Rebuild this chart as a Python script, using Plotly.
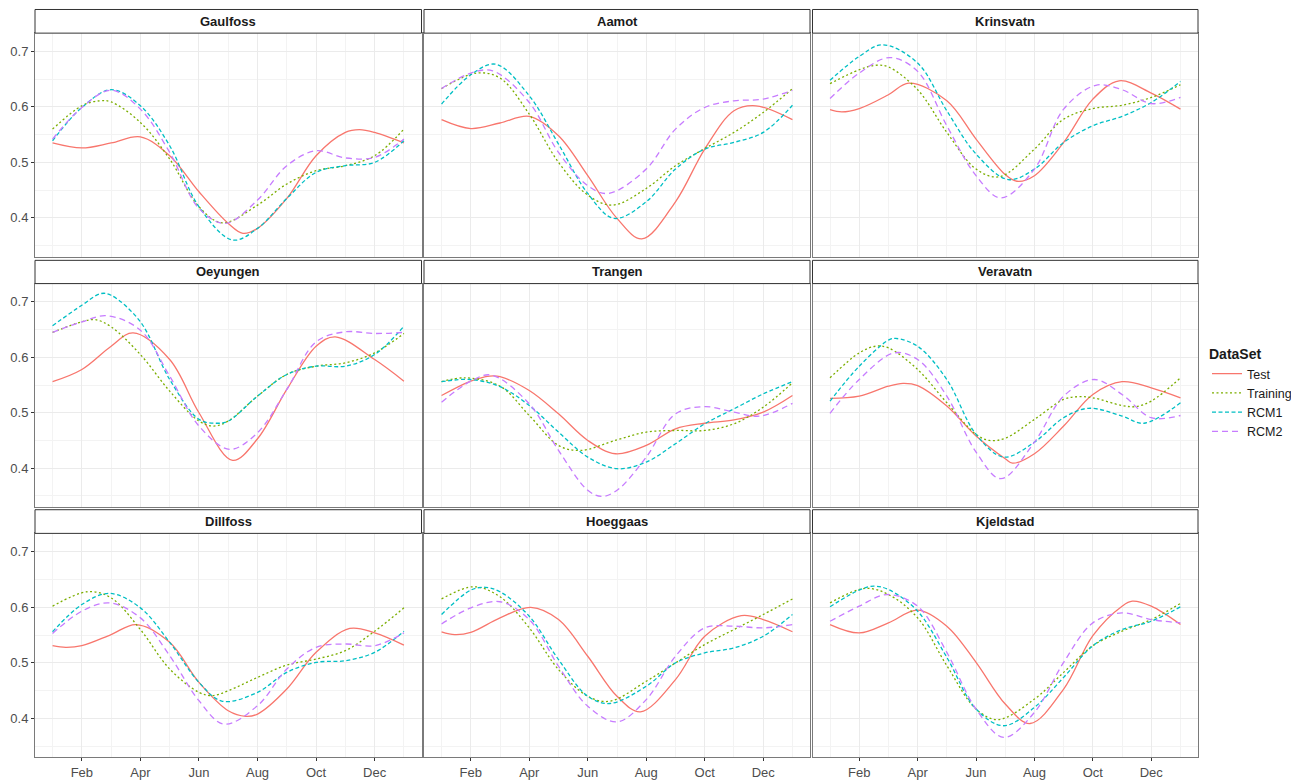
import plotly.graph_objects as go

# ---------------- data (month index: 1 = 1 Jan, 2 = 1 Feb, ..., 13 = 1 Jan next year) ----------------
STATIONS = ["Gaulfoss", "Aamot", "Krinsvatn",
            "Oeyungen", "Trangen", "Veravatn",
            "Dillfoss", "Hoeggaas", "Kjeldstad"]
SERIES = ["Test", "Training", "RCM1", "RCM2"]
MONTH_TICKS = [2, 4, 6, 8, 10, 12]
MONTH_LABELS = ["Feb", "Apr", "Jun", "Aug", "Oct", "Dec"]
MONTH_MINOR = [1, 3, 5, 7, 9, 11, 13]
Y_TICKS = [0.4, 0.5, 0.6, 0.7]
Y_LABELS = ["0.4", "0.5", "0.6", "0.7"]
Y_MINOR = [0.35, 0.45, 0.55, 0.65]

GAULFOSS_TEST = [(1, .535), (2, .526), (3, .535), (4, .546), (5, .512), (6, .447), (7, .390), (7.5, .372), (8, .381), (9, .435), (10, .512), (11, .554), (11.48, .559), (12, .554), (13, .535)]
GAULFOSS_TRAINING = [(1, .560), (2, .602), (2.6, .611), (3, .609), (4, .572), (5, .506), (6, .420), (6.8, .391), (8, .423), (9, .461), (10, .485), (11, .494), (12, .512), (13, .560)]
GAULFOSS_RCM1 = [(1, .539), (2, .599), (3, .631), (4, .602), (5, .530), (6, .420), (7.15, .360), (8, .381), (9, .435), (10, .482), (11, .494), (12, .500), (13, .539)]
GAULFOSS_RCM2 = [(1, .542), (2, .599), (3, .630), (4, .596), (5, .518), (6, .417), (6.9, .390), (8, .432), (9, .494), (10, .521), (11, .508), (12, .509), (13, .542)]

AAMOT_TEST = [(1, .577), (2, .561), (3, .571), (4, .583), (5, .548), (6, .476), (7, .399), (7.85, .362), (9, .429), (10, .524), (11, .593), (11.75, .602), (13, .577)]
AAMOT_TRAINING = [(1, .633), (2.2, .661), (3, .652), (4, .587), (5, .500), (6, .441), (6.85, .423), (8, .453), (9, .494), (10, .525), (11, .554), (12, .590), (13, .633)]
AAMOT_RCM1 = [(1, .605), (2, .658), (2.85, .677), (4, .620), (5, .533), (6, .444), (6.9, .399), (8, .429), (9, .488), (10, .524), (11, .536), (12, .554), (13, .603)]
AAMOT_RCM2 = [(1, .633), (2, .661), (2.75, .665), (4, .608), (5, .518), (6, .458), (6.7, .444), (8, .488), (9, .560), (10, .599), (11, .611), (12, .614), (13, .630)]

KRINSVATN_TEST = [(1, .595), (1.4, .591), (2, .597), (3, .622), (3.7, .643), (5, .611), (6, .542), (7, .478), (7.4, .466), (8, .476), (9, .536), (10, .614), (10.9, .647), (12, .625), (13, .596)]
KRINSVATN_TRAINING = [(1, .642), (2, .667), (2.55, .675), (3, .672), (4, .631), (5, .554), (6, .488), (6.8, .474), (8, .524), (9, .578), (10, .597), (11, .603), (12, .617), (13, .640)]
KRINSVATN_RCM1 = [(1, .648), (2, .691), (2.8, .712), (4, .679), (5, .593), (6, .515), (7.1, .469), (8, .488), (9, .536), (10, .566), (11, .583), (12, .608), (13, .646)]
KRINSVATN_RCM2 = [(1, .615), (2, .661), (3.05, .689), (4, .664), (5, .566), (6, .476), (6.85, .436), (8, .488), (9, .596), (10.1, .639), (11, .631), (12, .606), (13, .617)]

OEYUNGEN_TEST = [(1, .556), (2, .578), (3, .620), (3.75, .644), (5, .596), (6, .500), (7.15, .414), (8, .453), (9, .542), (10, .620), (10.65, .637), (12, .596), (13, .557)]
OEYUNGEN_TRAINING = [(1, .645), (2, .664), (2.45, .668), (3, .655), (4, .605), (5, .539), (6, .485), (6.5, .476), (7, .485), (8, .530), (9, .569), (10, .584), (11, .590), (12, .608), (13, .643)]
OEYUNGEN_RCM1 = [(1, .657), (2, .694), (2.65, .715), (3, .712), (4, .664), (5, .560), (6, .488), (6.6, .481), (7, .485), (8, .530), (9, .569), (10, .584), (11, .584), (12, .605), (13, .656)]
OEYUNGEN_RCM2 = [(1, .645), (2, .664), (2.85, .675), (4, .649), (5, .566), (6, .476), (7.05, .434), (8, .464), (9, .542), (10, .628), (11, .646), (12, .643), (13, .645)]

TRANGEN_TEST = [(1, .531), (2, .557), (2.65, .566), (3, .565), (4, .540), (5, .498), (6, .450), (6.95, .426), (8, .441), (9, .471), (10, .481), (11, .487), (12, .501), (13, .531)]
TRANGEN_TRAINING = [(1, .556), (1.8, .563), (3, .548), (4, .495), (5, .441), (5.75, .432), (7, .451), (8, .465), (9, .468), (10, .468), (11, .480), (12, .510), (13, .554)]
TRANGEN_RCM1 = [(1, .556), (2, .560), (3, .547), (4, .513), (5, .465), (6, .420), (7, .399), (8, .411), (9, .444), (10, .480), (11, .507), (12, .534), (13, .556)]
TRANGEN_RCM2 = [(1, .519), (2, .557), (2.7, .568), (4, .516), (5, .432), (6, .360), (6.47, .349), (7, .360), (8, .420), (9, .498), (10, .511), (11, .501), (11.9, .494), (13, .517)]

VERAVATN_TEST = [(1, .526), (2, .530), (3, .548), (3.5, .553), (4, .549), (5, .512), (6, .458), (7, .417), (7.25, .409), (8, .426), (9, .476), (10, .533), (11, .556), (12, .545), (13, .527)]
VERAVATN_TRAINING = [(1, .563), (2, .608), (2.55, .620), (3, .617), (4, .578), (5, .518), (6, .461), (6.45, .450), (7, .454), (8, .488), (9, .524), (9.5, .529), (10, .527), (11, .513), (11.45, .511), (12, .521), (13, .563)]
VERAVATN_RCM1 = [(1, .521), (2, .584), (3, .631), (3.25, .634), (4, .620), (5, .560), (6, .461), (6.95, .420), (8, .447), (9, .491), (9.85, .508), (11, .494), (11.75, .481), (13, .518)]
VERAVATN_RCM2 = [(1, .499), (2, .560), (3.2, .608), (4, .596), (5, .530), (6, .429), (6.85, .381), (8, .447), (9, .530), (10.05, .560), (11, .533), (12, .491), (13, .495)]

DILLFOSS_TEST = [(1, .531), (1.45, .528), (2, .531), (3, .551), (3.85, .569), (5, .537), (6, .465), (7, .414), (7.6, .404), (8, .408), (9, .453), (10, .519), (11.15, .562), (12, .554), (13, .532)]
DILLFOSS_TRAINING = [(1, .602), (2.2, .628), (3, .617), (4, .560), (5, .489), (6, .447), (6.45, .441), (7, .450), (8, .474), (9, .496), (10, .507), (11, .522), (12, .557), (13, .599)]
DILLFOSS_RCM1 = [(1, .556), (2, .605), (2.95, .625), (4, .599), (5, .537), (6, .465), (6.8, .431), (8, .447), (9, .483), (10, .501), (11, .504), (12, .519), (13, .557)]
DILLFOSS_RCM2 = [(1, .553), (2, .593), (2.95, .608), (4, .581), (5, .513), (6, .432), (6.85, .390), (8, .423), (9, .489), (10, .528), (11, .534), (12, .531), (13, .554)]

HOEGGAAS_TEST = [(1, .556), (1.45, .551), (2, .555), (3, .581), (4.05, .600), (5, .578), (6, .512), (7, .440), (7.8, .412), (9, .470), (10, .548), (11.25, .585), (12, .578), (13, .556)]
HOEGGAAS_TRAINING = [(1, .615), (2.1, .637), (3, .619), (4, .563), (5, .488), (6, .440), (6.75, .431), (8, .467), (9, .500), (10, .533), (11, .560), (12, .587), (13, .615)]
HOEGGAAS_RCM1 = [(1, .587), (2, .631), (2.5, .636), (3, .628), (4, .584), (5, .506), (6, .440), (6.75, .427), (8, .458), (9, .500), (10, .518), (11, .527), (12, .548), (13, .587)]
HOEGGAAS_RCM2 = [(1, .570), (2, .599), (3, .610), (4, .578), (5, .494), (6, .422), (7, .394), (8, .434), (9, .512), (10, .563), (11, .566), (12, .563), (13, .569)]

KJELDSTAD_TEST = [(1, .569), (2, .554), (3, .572), (4, .595), (5, .566), (6, .501), (7, .426), (7.85, .391), (9, .453), (10, .549), (11, .602), (11.35, .611), (12, .602), (13, .569)]
KJELDSTAD_TRAINING = [(1, .608), (2.2, .634), (3, .623), (4, .581), (5, .495), (6, .417), (6.75, .398), (8, .435), (9, .483), (10, .531), (11, .557), (12, .578), (13, .607)]
KJELDSTAD_RCM1 = [(1, .601), (2, .631), (2.5, .638), (3, .632), (4, .593), (5, .510), (6, .417), (6.95, .387), (8, .420), (9, .474), (10, .531), (11, .560), (12, .575), (13, .601)]
KJELDSTAD_RCM2 = [(1, .575), (2, .602), (2.95, .623), (4, .602), (5, .519), (6, .417), (6.95, .366), (8, .411), (9, .501), (10, .572), (11, .590), (12, .578), (13, .572)]

TABLE = {
    "Gaulfoss": [GAULFOSS_TEST, GAULFOSS_TRAINING, GAULFOSS_RCM1, GAULFOSS_RCM2],
    "Aamot": [AAMOT_TEST, AAMOT_TRAINING, AAMOT_RCM1, AAMOT_RCM2],
    "Krinsvatn": [KRINSVATN_TEST, KRINSVATN_TRAINING, KRINSVATN_RCM1, KRINSVATN_RCM2],
    "Oeyungen": [OEYUNGEN_TEST, OEYUNGEN_TRAINING, OEYUNGEN_RCM1, OEYUNGEN_RCM2],
    "Trangen": [TRANGEN_TEST, TRANGEN_TRAINING, TRANGEN_RCM1, TRANGEN_RCM2],
    "Veravatn": [VERAVATN_TEST, VERAVATN_TRAINING, VERAVATN_RCM1, VERAVATN_RCM2],
    "Dillfoss": [DILLFOSS_TEST, DILLFOSS_TRAINING, DILLFOSS_RCM1, DILLFOSS_RCM2],
    "Hoeggaas": [HOEGGAAS_TEST, HOEGGAAS_TRAINING, HOEGGAAS_RCM1, HOEGGAAS_RCM2],
    "Kjeldstad": [KJELDSTAD_TEST, KJELDSTAD_TRAINING, KJELDSTAD_RCM1, KJELDSTAD_RCM2],
}

# ---------------- style / geometry (page pixels; page body has an 8px margin) ----------------
PAGE_W, PAGE_H = 1299, 780
OFF = 8
W, H = PAGE_W - OFF, PAGE_H - OFF
COLORS = ["#F8766D", "#7CAE00", "#00BFC4", "#C77CFF"]
DASHES = ["solid", "2px,2.5px", "4px,2.5px", "6px,4px"]
FONT = "Liberation Sans, Arial, Helvetica, sans-serif"
COL_PX = [(35, 421.5), (424, 810), (812.5, 1198)]
ROW_PX = [(33.3, 258.3), (285.4, 510.2), (536.8, 762.3)]
STRIP_TOP = [9.5, 262, 513]
X_RANGE = [0.4, 13.6]
Y_RANGE = [0.330, 0.733]


def px_x(p):
    return (p - OFF) / W


def px_y(p):
    return 1 - (p - OFF) / H


fig = go.Figure()
layout = {}
shapes = []
annotations = []

for i, st in enumerate(STATIONS):
    r, c = divmod(i, 3)
    n = "" if i == 0 else str(i + 1)
    xd = [px_x(COL_PX[c][0]), px_x(COL_PX[c][1])]
    yd = [px_y(ROW_PX[r][1]), px_y(ROW_PX[r][0])]
    layout["xaxis" + n] = dict(
        domain=xd, anchor="y" + n, range=X_RANGE,
        tickmode="array", tickvals=MONTH_TICKS,
        ticktext=MONTH_LABELS if r == 2 else [""] * len(MONTH_TICKS),
        showticklabels=(r == 2),
        ticks="outside" if r == 2 else "", ticklen=3, tickcolor="#333333",
        showgrid=True, gridcolor="#EBEBEB", gridwidth=1,
        minor=dict(tickmode="array", tickvals=MONTH_MINOR, showgrid=True,
                   gridcolor="#F3F3F3", gridwidth=0.6, ticks=""),
        showline=True, mirror=True, linecolor="#7A7A7A", linewidth=1,
        zeroline=False, tickfont=dict(family=FONT, size=13, color="#4D4D4D"),
    )
    layout["yaxis" + n] = dict(
        domain=yd, anchor="x" + n, range=Y_RANGE,
        tickmode="array", tickvals=Y_TICKS,
        ticktext=Y_LABELS if c == 0 else [""] * len(Y_TICKS),
        showticklabels=(c == 0),
        ticks="outside" if c == 0 else "", ticklen=3, tickcolor="#333333",
        showgrid=True, gridcolor="#EBEBEB", gridwidth=1,
        minor=dict(tickmode="array", tickvals=Y_MINOR, showgrid=True,
                   gridcolor="#F3F3F3", gridwidth=0.6, ticks=""),
        showline=True, mirror=True, linecolor="#7A7A7A", linewidth=1,
        zeroline=False, tickfont=dict(family=FONT, size=13, color="#4D4D4D"),
    )
    # facet strip
    shapes.append(dict(type="rect", xref="paper", yref="paper",
                       x0=xd[0], x1=xd[1], y0=yd[1], y1=px_y(STRIP_TOP[r]),
                       fillcolor="white", line=dict(color="#333333", width=1)))
    annotations.append(dict(text="<b>" + st + "</b>", xref="paper", yref="paper",
                            x=(xd[0] + xd[1]) / 2,
                            y=px_y((STRIP_TOP[r] + ROW_PX[r][0]) / 2),
                            showarrow=False, xanchor="center", yanchor="middle",
                            font=dict(family=FONT, size=13, color="#1A1A1A")))
    for k, s in enumerate(SERIES):
        pts = TABLE[st][k]
        fig.add_trace(go.Scatter(
            x=[p[0] for p in pts], y=[p[1] for p in pts],
            mode="lines", name=s, legendgroup=s, showlegend=(i == 0),
            line=dict(color=COLORS[k], dash=DASHES[k], width=1.3,
                      shape="spline", smoothing=1.0),
            xaxis="x" + n, yaxis="y" + n, hoverinfo="skip"))

fig.update_layout(
    **layout,
    width=W, height=H,
    margin=dict(l=0, r=0, t=0, b=0),
    paper_bgcolor="white", plot_bgcolor="white",
    shapes=shapes, annotations=annotations,
    font=dict(family=FONT, color="#1A1A1A"),
    legend=dict(
        title=dict(text="<b>DataSet</b>", font=dict(family=FONT, size=14, color="#1A1A1A")),
        x=px_x(1207), xanchor="left", y=px_y(343), yanchor="top",
        font=dict(family=FONT, size=12.5, color="#1A1A1A"),
        itemwidth=30, tracegroupgap=0, bgcolor="rgba(0,0,0,0)",
    ),
)

fig.write_html("out.html")
